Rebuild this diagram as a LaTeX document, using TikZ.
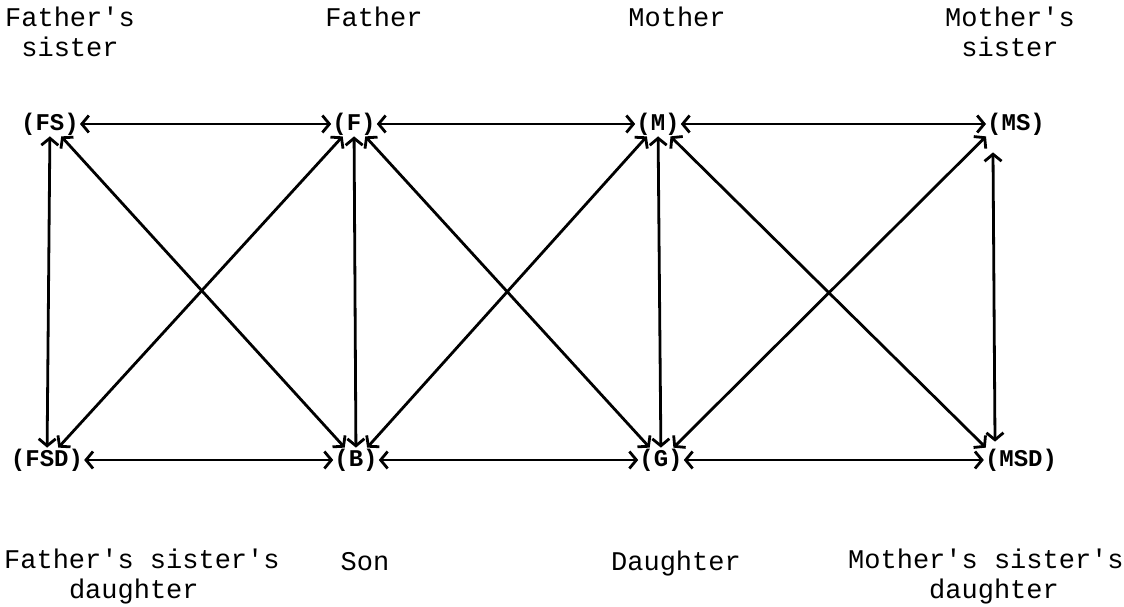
\documentclass[tikz,border=0pt]{standalone}
\usepackage{fontspec}
\setmainfont{Liberation Mono}
\usetikzlibrary{arrows.meta}
\begin{document}
\begin{tikzpicture}[x=1pt,y=-1pt,
  kin/.style={font=\fontsize{24}{26}\selectfont\bfseries, inner sep=1pt},
  lab/.style={font=\fontsize{27}{30}\selectfont, inner sep=0pt, anchor=base, align=center},
  labl/.style={lab, anchor=base west, align=left},
  tie/.style={line width=2.8pt,
    {Straight Barb[length=7pt,width=17pt]}-{Straight Barb[length=7pt,width=17pt]}}]
\useasboundingbox (0,0) rectangle (1124,607);

% kin terms, upper row (parents' generation) and lower row (children)
\node[kin] (FS)  at (50,124)   {(FS)};
\node[kin] (F)   at (354,124)  {(F)};
\node[kin] (M)   at (658,124)  {(M)};
\node[kin] (MS)  at (1016,124) {(MS)};
\node[kin] (FSD) at (47,460)   {(FSD)};
\node[kin] (B)   at (356,460)  {(B)};
\node[kin] (G)   at (661,460)  {(G)};
\node[kin] (MSD) at (1021,460) {(MSD)};

% glosses (the base anchor sits on the last line)
\node[lab]  (tFS)  at (70,57)   {Father\textquotesingle s\\sister};
\node[lab]  (tF)   at (374,27)  {Father};
\node[lab]  (tM)   at (677,27)  {Mother};
\node[lab]  (tMS)  at (1010,57) {Mother\textquotesingle s\\sister};
\node[labl] (tFSD) at (4,598)   {Father\textquotesingle s sister\textquotesingle s\\\phantom{Fath}daughter};
\node[lab]  (tB)   at (365,570) {Son};
\node[lab]  (tG)   at (676,570) {Daughter};
\node[labl] (tMSD) at (848,598) {Mother\textquotesingle s sister\textquotesingle s\\\phantom{Mothe}daughter};

% horizontal relations
\draw[tie] (FS) -- (F);
\draw[tie] (F) -- (M);
\draw[tie] (M) -- (MS);
\draw[tie] (FSD) -- (B);
\draw[tie] (B) -- (G);
\draw[tie] (G) -- (MSD);

% vertical relations
\draw[tie] (FS) -- (FSD);
\draw[tie] (F) -- (B);
\draw[tie] (M) -- (G);
\draw[tie] ([xshift=-23pt,yshift=-16pt]MS.south) -- ([xshift=-26pt,yshift=6pt]MSD.north);

% diagonal relations
\draw[tie] (FS) -- (B);
\draw[tie] (FSD) -- (F);
\draw[tie] (F) -- (G);
\draw[tie] (B) -- (M);
\draw[tie] (M) -- ([xshift=2pt]MSD.north west);
\draw[tie] (G) -- (MS.south west);
\end{tikzpicture}
\end{document}
